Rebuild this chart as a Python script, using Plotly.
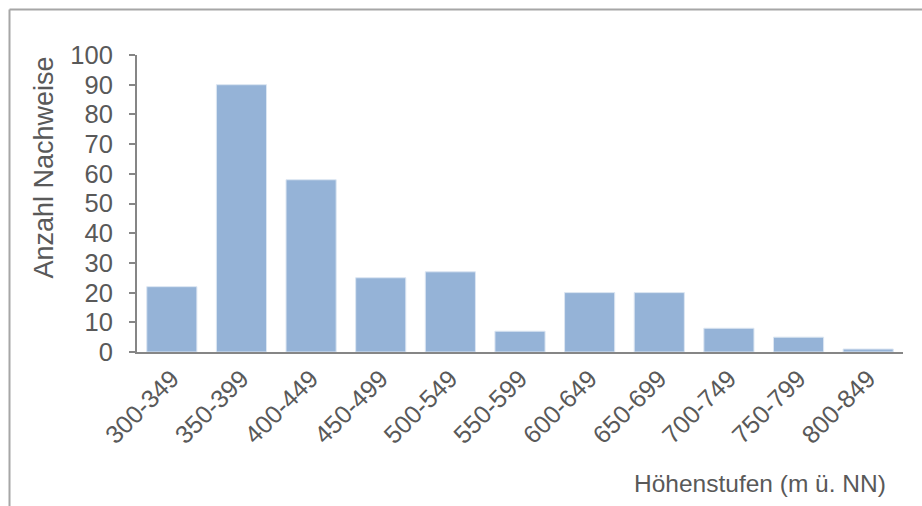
import plotly.graph_objects as go

categories = ["300-349", "350-399", "400-449", "450-499", "500-549", "550-599",
              "600-649", "650-699", "700-749", "750-799", "800-849"]
counts = [22, 90, 58, 25, 27, 7, 20, 20, 8, 5, 1]
y_ticks = [0, 10, 20, 30, 40, 50, 60, 70, 80, 90, 100]

L, R, T, B = 137, 19, 55, 154
W, H = 922, 506
pw, ph = W - L - R, H - T - B

def px_x(p):
    return (p - L) / pw

def px_y(p):
    return (H - B - p) / ph

font_col = "#595959"
axis_col = "#868686"

fig = go.Figure(go.Bar(
    x=categories, y=counts,
    marker=dict(color="#95B3D7", line=dict(color="#DCE6F2", width=1)),
))

fig.update_layout(
    width=W, height=H,
    margin=dict(l=L, r=R, t=T, b=B, autoexpand=False),
    plot_bgcolor="white", paper_bgcolor="white",
    font=dict(family="Liberation Sans, Arial, sans-serif", color=font_col),
    bargap=0.28,
    showlegend=False,
    xaxis=dict(
        showline=True, linecolor=axis_col, linewidth=2,
        tickangle=-45, tickfont=dict(size=25, color=font_col),
        ticks="", showgrid=False,
    ),
    yaxis=dict(
        range=[0, 100], tickvals=y_ticks,
        showline=True, linecolor=axis_col, linewidth=2,
        ticks="outside", ticklen=6, tickcolor=axis_col, tickwidth=2,
        tickfont=dict(size=25.5, color=font_col),
        ticklabelstandoff=11,
        showgrid=False, zeroline=False,
    ),
    shapes=[
        dict(type="line", xref="paper", yref="paper",
             x0=px_x(9.5), x1=px_x(930), y0=px_y(9.5), y1=px_y(9.5),
             line=dict(color="#A6A6A6", width=2)),
        dict(type="line", xref="paper", yref="paper",
             x0=px_x(9.5), x1=px_x(9.5), y0=px_y(9.5), y1=px_y(520),
             line=dict(color="#A6A6A6", width=2)),
    ],
    annotations=[
        dict(text="Anzahl Nachweise", xref="paper", yref="paper",
             x=px_x(43), y=px_y(167.5), textangle=-90, showarrow=False,
             font=dict(size=27, color=font_col), xanchor="center", yanchor="middle"),
        dict(text="Höhenstufen (m ü. NN)", xref="paper", yref="paper",
             x=px_x(760), y=px_y(483), showarrow=False,
             font=dict(size=24.5, color=font_col), xanchor="center", yanchor="middle"),
    ],
)

fig.write_html("out.html")
